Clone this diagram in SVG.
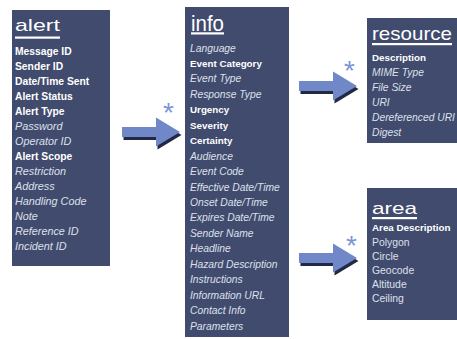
<svg xmlns="http://www.w3.org/2000/svg" xmlns:xlink="http://www.w3.org/1999/xlink" width="457" height="339" viewBox="0 0 457 339">
<style>
.box{fill:#414b6d}
.title{font-family:"Liberation Sans",Arial,sans-serif;fill:#ffffff}
.ul{fill:#ffffff}
.b{font-family:"Liberation Sans",Arial,sans-serif;font-weight:bold;fill:#ffffff;font-size:9.8px}
.i{font-family:"Liberation Sans",Arial,sans-serif;font-style:italic;fill:#dde0ec;font-size:10.3px}
.r{font-family:"Liberation Sans",Arial,sans-serif;fill:#dde0ec;font-size:10.4px}
.alert .b{font-size:10.3px}
.alert .i{font-size:10.8px}
.arrow{fill:#7088c8}
.shadow{fill:#222944}
.star{font-family:"Liberation Sans",Arial,sans-serif;fill:#7d95d3;font-size:28px}
</style>
<defs>
<path id="arr" d="M0,-5 H34 V-14.5 L58,0 L34,14.5 V5 H0 Z"/>
</defs>
<rect width="457" height="339" fill="#ffffff"/>

<g id="alert" class="alert">
<rect class="box" x="12" y="10" width="98" height="256"/>
<text class="title" x="15" y="31" font-size="17" textLength="45" lengthAdjust="spacingAndGlyphs">alert</text>
<rect class="ul" x="15" y="36.5" width="45" height="2.2"/>
<text class="b" x="15" y="54.5">Message ID</text>
<text class="b" x="15" y="69.5">Sender ID</text>
<text class="b" x="15" y="84.5">Date/Time Sent</text>
<text class="b" x="15" y="99.5">Alert Status</text>
<text class="b" x="15" y="114.5">Alert Type</text>
<text class="i" x="15" y="129.5">Password</text>
<text class="i" x="15" y="144.5">Operator ID</text>
<text class="b" x="15" y="159.5">Alert Scope</text>
<text class="i" x="15" y="174.5">Restriction</text>
<text class="i" x="15" y="189.5">Address</text>
<text class="i" x="15" y="204.5">Handling Code</text>
<text class="i" x="15" y="219.5">Note</text>
<text class="i" x="15" y="234.5">Reference ID</text>
<text class="i" x="15" y="249.5">Incident ID</text>
</g>

<g id="info">
<rect class="box" x="185" y="7" width="104" height="330"/>
<text class="title" x="191" y="30.5" font-size="22" textLength="33" lengthAdjust="spacingAndGlyphs">info</text>
<rect class="ul" x="191" y="32.3" width="33" height="2.2"/>
<text class="i" x="190" y="51.5">Language</text>
<text class="b" x="190" y="67">Event Category</text>
<text class="i" x="190" y="82.4">Event Type</text>
<text class="i" x="190" y="97.8">Response Type</text>
<text class="b" x="190" y="113.3">Urgency</text>
<text class="b" x="190" y="128.7">Severity</text>
<text class="b" x="190" y="144.2">Certainty</text>
<text class="i" x="190" y="159.6">Audience</text>
<text class="i" x="190" y="175.1">Event Code</text>
<text class="i" x="190" y="190.5">Effective Date/Time</text>
<text class="i" x="190" y="206">Onset Date/Time</text>
<text class="i" x="190" y="221.4">Expires Date/Time</text>
<text class="i" x="190" y="236.9">Sender Name</text>
<text class="i" x="190" y="252.3">Headline</text>
<text class="i" x="190" y="267.8">Hazard Description</text>
<text class="i" x="190" y="283.2">Instructions</text>
<text class="i" x="190" y="298.7">Information URL</text>
<text class="i" x="190" y="314.1">Contact Info</text>
<text class="i" x="190" y="329.6">Parameters</text>
</g>

<g id="resource">
<rect class="box" x="367" y="18" width="95" height="125"/>
<text class="title" x="372" y="40" font-size="19" textLength="80" lengthAdjust="spacingAndGlyphs">resource</text>
<rect class="ul" x="372" y="43" width="80" height="2.2"/>
<text class="b" x="372" y="60.5">Description</text>
<text class="i" x="372" y="75.5">MIME Type</text>
<text class="i" x="372" y="90.5">File Size</text>
<text class="i" x="372" y="105.5">URI</text>
<text class="i" x="372" y="120.5">Dereferenced URI</text>
<text class="i" x="372" y="135.5">Digest</text>
</g>

<g id="area">
<rect class="box" x="367" y="188" width="95" height="132"/>
<text class="title" x="372" y="214" font-size="17" textLength="45" lengthAdjust="spacingAndGlyphs">area</text>
<rect class="ul" x="372" y="217" width="45" height="2.2"/>
<text class="b" x="372" y="231">Area Description</text>
<text class="r" x="372" y="245.5">Polygon</text>
<text class="r" x="372" y="260">Circle</text>
<text class="r" x="372" y="274">Geocode</text>
<text class="r" x="372" y="288">Altitude</text>
<text class="r" x="372" y="302">Ceiling</text>
</g>

<g id="connectors">
<use xlink:href="#arr" class="shadow" transform="translate(123.5,135)"/>
<use xlink:href="#arr" class="arrow" transform="translate(122,132)"/>
<text class="star" x="163" y="122">*</text>
<use xlink:href="#arr" class="shadow" transform="translate(300.5,89)"/>
<use xlink:href="#arr" class="arrow" transform="translate(299,86)"/>
<text class="star" x="344" y="80">*</text>
<use xlink:href="#arr" class="shadow" transform="translate(300.5,261)"/>
<use xlink:href="#arr" class="arrow" transform="translate(299,258)"/>
<text class="star" x="346" y="255">*</text>
</g>
</svg>
